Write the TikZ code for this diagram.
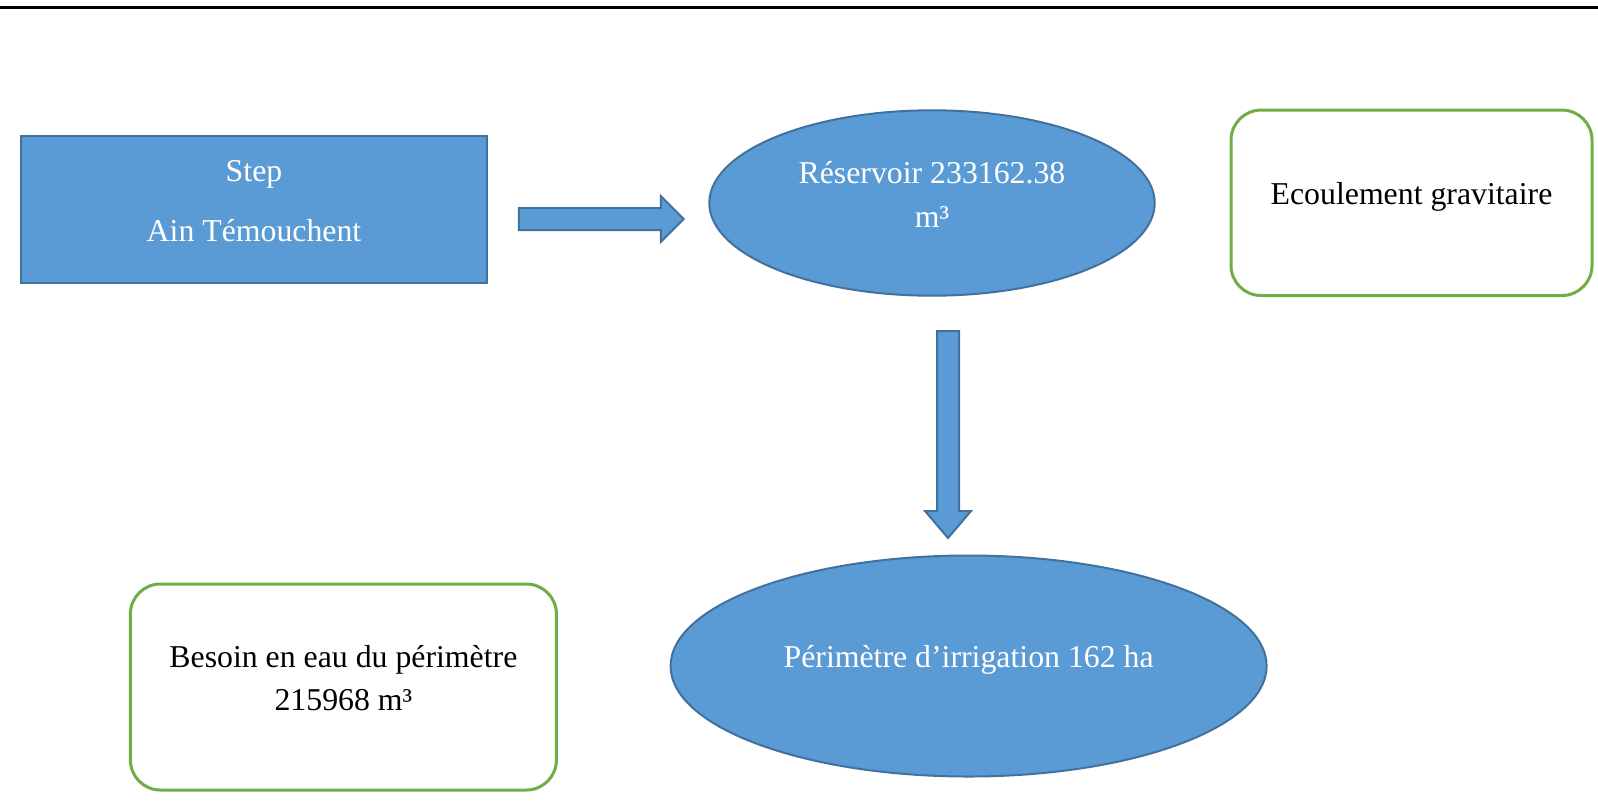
\documentclass[tikz,border=0pt]{standalone}
\usepackage{fontspec}
\setmainfont{Liberation Serif}
\usetikzlibrary{shapes.geometric,calc}
\definecolor{fillblue}{HTML}{5B9BD5}
\definecolor{edgeblue}{HTML}{41719C}
\definecolor{edgegreen}{HTML}{70AD47}
\tikzset{
  bluebox/.style={draw=edgeblue, fill=fillblue, line width=1pt, rectangle, inner sep=0pt},
  blueoval/.style={draw=edgeblue, fill=fillblue, line width=1pt, ellipse, inner sep=0pt},
  greenbox/.style={draw=edgegreen, fill=white, line width=1.5pt, rectangle, rounded corners=15pt, inner sep=0pt},
  lbl/.style={font=\fontsize{15.9}{21.4}\selectfont, inner sep=0pt, anchor=base},
  whitelbl/.style={lbl, text=white},
  blacklbl/.style={lbl, text=black},
  blockarrow/.style={draw=edgeblue, fill=fillblue, line width=1pt, line join=miter}
}
\begin{document}
\begin{tikzpicture}[x=0.5pt, y=-0.5pt]
  \useasboundingbox (0,0) rectangle (1598,804);

  % rule across the top of the page
  \draw[line width=1.5pt] (0,7.5) -- (1598,7.5);

  % shapes
  \node[bluebox, minimum width=232.8pt, minimum height=73.9pt] (step) at (254,209.4) {};
  \node[blueoval, minimum width=222.7pt, minimum height=92.7pt] (res) at (932,203) {};
  \node[greenbox, minimum width=180.5pt, minimum height=92.7pt] (flow) at (1411.5,202.8) {};
  \node[blueoval, minimum width=298pt, minimum height=110.5pt] (perim) at (968.6,666) {};
  \node[greenbox, minimum width=213pt, minimum height=103pt] (need) at (343.4,687) {};

  % labels
  \node[whitelbl] (stepA) at ($(step.center)+(0,-28)$) {Step};
  \node[whitelbl] (stepB) at ($(step.center)+(0,32)$) {Ain Témouchent};
  \node[whitelbl] (resA) at ($(res.center)+(0,-19.5)$) {Réservoir 233162.38};
  \node[whitelbl] (resB) at ($(res.center)+(0,24)$) {m³};
  \node[blacklbl] (flowA) at ($(flow.center)+(0,2)$) {Ecoulement gravitaire};
  \node[whitelbl] (perimA) at ($(perim.center)+(0,1.5)$) {Périmètre d’irrigation 162 ha};
  \node[blacklbl] (needA) at ($(need.center)+(0,-19.5)$) {Besoin en eau du périmètre};
  \node[blacklbl] (needB) at ($(need.center)+(0,23)$) {215968 m³};

  % block arrow from the station to the reservoir (starts at the upper left corner of its shaft)
  \coordinate (r0) at ($(step.east)+(31,-1.4)$);
  \draw[blockarrow] (r0) -- ++(142,0) -- ++(0,-12) -- ++(23,23) -- ++(-23,23)
    -- ++(0,-12) -- ++(-142,0) -- cycle;

  % block arrow from the reservoir down to the irrigated area
  \coordinate (d0) at ($(res.south)+(5,34.3)$);
  \draw[blockarrow] (d0) -- ++(22,0) -- ++(0,180) -- ++(12,0) -- ++(-23,27)
    -- ++(-23,-27) -- ++(12,0) -- cycle;
\end{tikzpicture}
\end{document}
